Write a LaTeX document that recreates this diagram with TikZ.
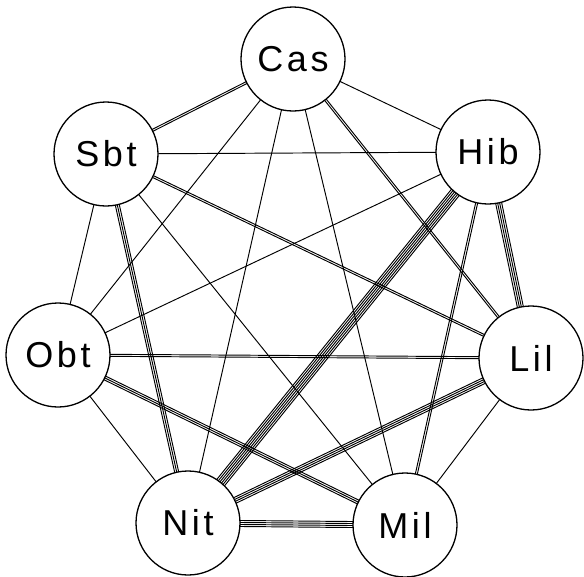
\documentclass[tikz,border=0pt]{standalone}
\usepackage{fontspec}
\newfontfamily\labfont[LetterSpace=10]{Liberation Sans}
\usetikzlibrary{calc}
\pgfdeclarelayer{bg}
\pgfsetlayers{bg,main}
\newcommand\pitch{2.0}
\newcommand\medge[3]{%
  \foreach \k in {1,...,#3}{%
    \pgfmathsetmacro\off{(\k-(#3+1)/2)*\pitch}%
    \draw[edgeline] ($(#1.center)!\off pt!90:(#2.center)$) -- ($(#2.center)!\off pt!-90:(#1.center)$);
  }}
\tikzset{
  city/.style={circle, draw, line width=1.3pt, fill=white, minimum size=104pt, inner sep=0pt,
    font=\labfont\fontsize{36}{42}\selectfont},
  edgeline/.style={line width=0.95pt, line cap=butt}
}
\begin{document}
\begin{tikzpicture}[x=1pt,y=-1pt]
\useasboundingbox (0,0) rectangle (584,576);
\node[city] (Cas) at (293,59) {Cas};
\node[city] (Sbt) at (106,154) {Sbt};
\node[city] (Hib) at (488,152) {Hib};
\node[city] (Obt) at (58,355) {Obt};
\node[city] (Lil) at (531,358) {Lil};
\node[city] (Nit) at (188,523) {Nit};
\node[city] (Mil) at (405,525) {Mil};
\begin{pgfonlayer}{bg}
\medge{Cas}{Sbt}{2}
\medge{Cas}{Hib}{1}
\medge{Cas}{Obt}{1}
\medge{Cas}{Nit}{1}
\medge{Cas}{Mil}{1}
\medge{Cas}{Lil}{2}
\medge{Sbt}{Hib}{1}
\medge{Sbt}{Lil}{2}
\medge{Sbt}{Obt}{1}
\medge{Sbt}{Nit}{3}
\medge{Sbt}{Mil}{1}
\medge{Hib}{Obt}{1}
\medge{Hib}{Nit}{6}
\medge{Hib}{Mil}{2}
\medge{Hib}{Lil}{4}
\medge{Obt}{Lil}{2}
\medge{Obt}{Mil}{3}
\medge{Obt}{Nit}{1}
\medge{Lil}{Nit}{4}
\medge{Lil}{Mil}{1}
\medge{Nit}{Mil}{4}
\end{pgfonlayer}
\end{tikzpicture}
\end{document}
